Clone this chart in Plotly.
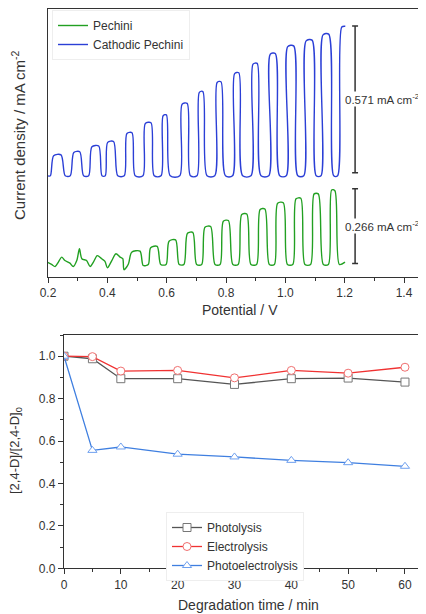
import plotly.graph_objects as go

# ---- top panel: chopped-light photocurrent (offset curves, mA cm-2) ----
# Cathodic Pechini: each pulse = light on (rise start / top start) and off (top end / fall end)
blue_rise = [0.208, 0.275, 0.337, 0.393, 0.457, 0.520, 0.581, 0.644, 0.702, 0.762,
             0.822, 0.884, 0.944, 1.003, 1.062, 1.120, 1.176]
blue_top_on = [0.219, 0.287, 0.348, 0.401, 0.466, 0.528, 0.588, 0.652, 0.710, 0.770,
               0.829, 0.891, 0.949, 1.008, 1.070, 1.127, 1.190]
blue_top_off = [0.244, 0.307, 0.371, 0.421, 0.483, 0.547, 0.599, 0.669, 0.722, 0.783,
                0.843, 0.905, 0.966, 1.028, 1.090, 1.146, 1.202]
blue_fall = [0.258, 0.320, 0.382, 0.435, 0.494, 0.558, 0.612, 0.680, 0.736, 0.798,
             0.856, 0.918, 0.981, 1.042, 1.104, 1.163, None]
blue_peak = [0.462, 0.474, 0.496, 0.513, 0.547, 0.585, 0.615, 0.659, 0.704, 0.742,
             0.776, 0.812, 0.850, 0.879, 0.901, 0.924, 0.954]
blue_dark = 0.385

# Pechini trace read point by point
green_v = [0.198, 0.212, 0.224, 0.235, 0.246, 0.257, 0.274, 0.285, 0.297, 0.306, 0.314,
           0.330, 0.342, 0.353, 0.366, 0.381, 0.392, 0.400, 0.415, 0.429, 0.443, 0.452,
           0.456, 0.471, 0.482, 0.510, 0.521, 0.538, 0.546, 0.568, 0.580, 0.598, 0.608,
           0.630, 0.642, 0.658, 0.670, 0.688, 0.701, 0.718, 0.729, 0.748, 0.763, 0.780,
           0.791, 0.808, 0.823, 0.841, 0.853, 0.870, 0.884, 0.903, 0.915, 0.931, 0.946,
           0.963, 0.974, 0.993, 1.007, 1.025, 1.036, 1.052, 1.066, 1.085, 1.097, 1.111,
           1.128, 1.145, 1.156, 1.167, 1.182, 1.201]
green_j = [0.055, 0.046, 0.038, 0.055, 0.074, 0.061, 0.051, 0.038, 0.061, 0.106, 0.068,
           0.061, 0.038, 0.055, 0.080, 0.068, 0.058, 0.033, 0.061, 0.087, 0.074, 0.068,
           0.026, 0.048, 0.093, 0.097, 0.042, 0.046, 0.110, 0.115, 0.046, 0.046, 0.135,
           0.140, 0.046, 0.046, 0.165, 0.169, 0.046, 0.046, 0.188, 0.191, 0.046, 0.046,
           0.211, 0.214, 0.046, 0.046, 0.237, 0.239, 0.046, 0.046, 0.256, 0.258, 0.046,
           0.046, 0.280, 0.282, 0.046, 0.046, 0.297, 0.299, 0.046, 0.046, 0.316, 0.316,
           0.046, 0.046, 0.331, 0.328, 0.046, 0.055]

scale_labels = ["0.571 mA cm<sup>-2</sup>", "0.266 mA cm<sup>-2</sup>"]
scale_low = [0.397, 0.050]
scale_high = [0.958, 0.336]

# ---- bottom panel: degradation ----
time_min = [0, 5, 10, 20, 30, 40, 50, 60]
photolysis = [1.0, 0.988, 0.894, 0.894, 0.867, 0.894, 0.897, 0.878]
electrolysis = [1.0, 0.998, 0.930, 0.933, 0.898, 0.933, 0.920, 0.948]
photoelectrolysis = [1.0, 0.556, 0.572, 0.538, 0.525, 0.509, 0.498, 0.481]

# assemble blue vertices from the pulse tables
blue_v, blue_j = [0.200], [blue_dark]
for i in range(len(blue_rise)):
    blue_v += [blue_rise[i], blue_top_on[i], blue_top_off[i]]
    blue_j += [blue_dark, blue_peak[i], blue_peak[i] + 0.003]
    if blue_fall[i] is not None:
        blue_v.append(blue_fall[i])
        blue_j.append(blue_dark)

TXT = "#333333"
FONT = "Liberation Sans, Arial, sans-serif"

# page body keeps its default 8px margin, so the figure is 8px smaller each way
W, H, OFF = 418, 606, 8


def px(x):
    return (x - OFF) / W


def py(y):
    return 1 - (y - OFF) / H


fig = go.Figure()

fig.add_trace(go.Scatter(x=green_v, y=green_j, mode="lines", name="Pechini",
                         line=dict(color="#22a022", width=1.4, shape="spline", smoothing=0.8),
                         xaxis="x", yaxis="y", legend="legend"))
fig.add_trace(go.Scatter(x=blue_v, y=blue_j, mode="lines", name="Cathodic Pechini",
                         line=dict(color="#2b3fd6", width=1.4, shape="spline", smoothing=0.8),
                         xaxis="x", yaxis="y", legend="legend"))

series = [
    ("Photolysis", photolysis, "#555555", "#777777", "square"),
    ("Electrolysis", electrolysis, "#f03232", "#f07070", "circle"),
    ("Photoelectrolysis", photoelectrolysis, "#3f7fe0", "#6fa0ef", "triangle-up"),
]
for name, vals, lc, mc, sym in series:
    fig.add_trace(go.Scatter(x=time_min, y=vals, mode="lines+markers", name=name,
                             line=dict(color=lc, width=1.3),
                             marker=dict(symbol=sym, size=8, color="white",
                                         line=dict(color=mc, width=1)),
                             xaxis="x2", yaxis="y2", legend="legend2"))

# scale bars with end caps
for lab, lo, hi in zip(scale_labels, scale_low, scale_high):
    fig.add_shape(type="line", xref="x", yref="y", x0=1.235, x1=1.235, y0=lo, y1=hi,
                  line=dict(color="#333333", width=1.5))
    for yy in (lo, hi):
        fig.add_shape(type="line", xref="x", yref="y", x0=1.225, x1=1.245, y0=yy, y1=yy,
                      line=dict(color="#333333", width=1.5))
    fig.add_annotation(x=1.199, y=(lo + hi) / 2, xref="x", yref="y", text=lab,
                       showarrow=False, xanchor="left", bgcolor="white", borderpad=0,
                       font=dict(size=11.5, color=TXT, family=FONT))

# axis titles as paper annotations (positions in page pixels)
titles = [
    ("Current density / mA cm<sup>-2</sup>", 18, 135, -90, 15),
    ("Potential / V", 240, 310, 0, 14),
    ("[2,4-D]/[2,4-D]<sub>0</sub>", 15, 451, -90, 13),
    ("Degradation time / min", 249, 605, 0, 14),
]
for txt, tx, ty, ang, sz in titles:
    fig.add_annotation(x=px(tx), y=py(ty), xref="paper", yref="paper", text=txt,
                       showarrow=False, textangle=ang, xanchor="center", yanchor="middle",
                       font=dict(size=sz, color=TXT, family=FONT))

axis_common = dict(showline=True, linecolor="#333333", linewidth=1.2, ticks="outside",
                   ticklen=5, tickcolor="#333333", showgrid=False, zeroline=False,
                   automargin=False, tickfont=dict(size=12, color=TXT, family=FONT))

fig.update_layout(
    width=W, height=H, margin=dict(l=0, r=0, t=0, b=0),
    paper_bgcolor="white", plot_bgcolor="white",
    font=dict(family=FONT, color=TXT),
    xaxis=dict(axis_common, domain=[px(48), 1], range=[0.2, 1.474], dtick=0.2, mirror=True,
               tickformat=".1f", anchor="y",
               minor=dict(dtick=0.1, ticks="outside", ticklen=3, tickcolor="#333333")),
    yaxis=dict(showline=True, linecolor="#333333", linewidth=1.2, showgrid=False,
               zeroline=False, showticklabels=False, ticks="", domain=[py(276.5), py(9)],
               range=[0, 1.023], anchor="x", automargin=False),
    xaxis2=dict(axis_common, domain=[px(64), 1], range=[0, 63.7], dtick=10, mirror=True,
                anchor="y2",
                minor=dict(dtick=5, ticks="outside", ticklen=3, tickcolor="#333333")),
    yaxis2=dict(axis_common, domain=[py(568.3), py(335)], range=[0, 1.1], dtick=0.2,
                tickformat=".1f", anchor="x2",
                minor=dict(dtick=0.1, ticks="outside", ticklen=3, tickcolor="#333333")),
    legend=dict(x=px(52), y=py(10), xanchor="left", yanchor="top", bgcolor="white",
                bordercolor="#eeeeee", borderwidth=1, font=dict(size=12, color=TXT),
                tracegroupgap=0, itemwidth=30),
    legend2=dict(x=px(166), y=py(512), xanchor="left", yanchor="top", bgcolor="white",
                 bordercolor="#eeeeee", borderwidth=1, font=dict(size=12, color=TXT),
                 tracegroupgap=0, itemwidth=30),
)

fig.write_html("out.html")
